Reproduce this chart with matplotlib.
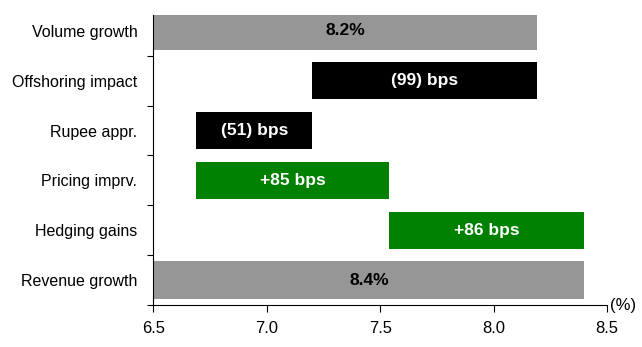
import matplotlib
matplotlib.use("Agg")
import matplotlib.pyplot as plt
import numpy as np

plt.rcParams['font.family'] = ['Liberation Sans', 'DejaVu Sans']

# waterfall steps, top to bottom
categories = ['Volume growth', 'Offshoring impact', 'Rupee appr.',
              'Pricing imprv.', 'Hedging gains', 'Revenue growth']
volume_growth = 8.19
changes_bps = [-99, -51, 85, 86]
labels = ['8.2%', '(99) bps', '(51) bps', '+85 bps', '+86 bps', '8.4%']
revenue_growth = 8.40

x_start = 6.5

# build left / right edges of each bar
lefts = [x_start]
rights = [volume_growth]
level = volume_growth
for c in changes_bps:
    new = level + c / 100.0
    lefts.append(min(level, new))
    rights.append(max(level, new))
    level = new
lefts.append(x_start)
rights.append(revenue_growth)
lefts = np.array(lefts)
rights = np.array(rights)

gray = '#969696'
green = '#008000'
colors = [gray] + [('black' if c < 0 else green) for c in changes_bps] + [gray]
text_colors = ['black', 'white', 'white', 'white', 'white', 'black']

fig = plt.figure(figsize=(6.42, 3.47), dpi=100)
ax = fig.add_axes([0.2388, 0.121, 0.7067, 0.836])

y = np.arange(len(categories))
ax.barh(y, rights - lefts, left=lefts, height=0.75, color=colors)

for i in range(len(categories)):
    ax.text((lefts[i] + rights[i]) / 2, y[i], labels[i], ha='center', va='center',
            color=text_colors[i], fontsize=12.5, fontweight='bold')

ax.set_xlim(6.5, 8.5)
ax.set_ylim(len(categories) - 0.5, -0.32)
ax.set_xticks([6.5, 7.0, 7.5, 8.0, 8.5])
ax.set_xticklabels(['6.5', '7.0', '7.5', '8.0', '8.5'], fontsize=12)
ax.tick_params(axis='x', direction='out', length=5, width=0.8, pad=6.5)

ax.set_yticks(y)
ax.set_yticklabels(categories, fontsize=11.5)
ax.set_yticks(np.arange(len(categories)) + 0.5, minor=True)
ax.tick_params(axis='y', which='major', length=0, pad=11.5)
ax.tick_params(axis='y', which='minor', direction='out', length=4.5, width=0.8)

ax.spines['top'].set_visible(False)
ax.spines['right'].set_visible(False)
ax.spines['left'].set_linewidth(0.8)
ax.spines['bottom'].set_linewidth(0.8)

ax.text(1.006, 0.0, '(%)', transform=ax.transAxes, ha='left', va='center', fontsize=12)

fig.savefig('out.png', dpi=100)
